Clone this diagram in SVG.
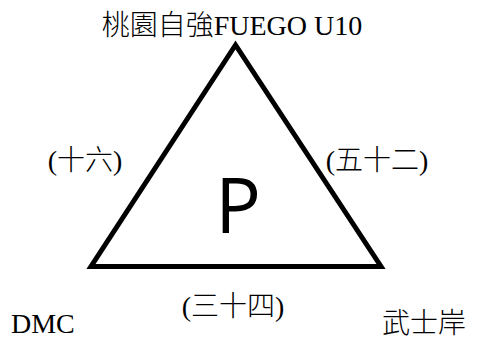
<svg xmlns="http://www.w3.org/2000/svg" width="478" height="339" viewBox="0 0 478 339">
<style>
.t{font-family:"Liberation Serif","Noto Sans CJK TC",serif;font-size:28px;font-weight:300;fill:#000}
.edge{fill:none;stroke:#000;stroke-width:5;stroke-linejoin:miter}
</style>
<rect width="478" height="339" fill="#fff"/>
<g id="connectors">
<polygon class="edge" points="235.5,45 91,266.5 381,266.5"/>
</g>
<g id="node-top"><text class="t" x="232" y="35" text-anchor="middle">桃園自強FUEGO U10</text></g>
<g id="node-left"><text class="t" x="11" y="333">DMC</text></g>
<g id="node-right"><text class="t" x="382" y="333">武士岸</text></g>
<g id="label-left"><text class="t" x="85" y="170" text-anchor="middle">(十六)</text></g>
<g id="label-right"><text class="t" x="377" y="170" text-anchor="middle">(五十二)</text></g>
<g id="label-bottom"><text class="t" x="233" y="316" text-anchor="middle">(三十四)</text></g>
<g id="center"><text x="238" y="233" text-anchor="middle" font-family="'Open Sans','Noto Sans',sans-serif" font-size="76">P</text></g>
</svg>
